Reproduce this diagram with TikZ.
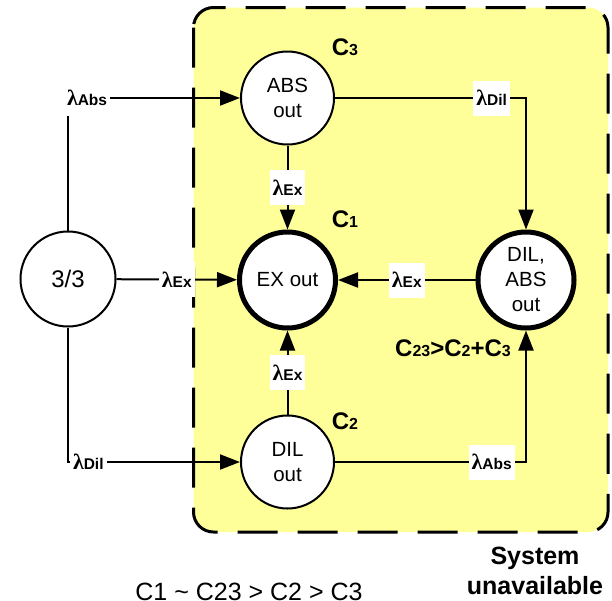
\documentclass[tikz,border=0pt]{standalone}
\usepackage{fontspec}
\setmainfont{Liberation Sans}
\newfontfamily\lamfont{Liberation Serif}
\definecolor{sysyellow}{HTML}{FFFF99}
\usepackage{tikz}
\usetikzlibrary{positioning,arrows.meta,calc}
\newcommand{\lamlbl}[1]{{\lamfont\bfseries\fontsize{22}{22}\selectfont λ}{\fontsize{15.5}{15.5}\selectfont\bfseries #1}}
\newcommand{\costlbl}[2]{{\fontsize{24}{24}\selectfont\bfseries #1}{\fontsize{16}{16}\selectfont\bfseries #2}}

\begin{document}
\begin{tikzpicture}[x=1pt, y=-1pt,
    state/.style={circle, draw, line width=2pt, fill=white, minimum size=93pt, inner sep=0pt,
                  align=center, font=\fontsize{20.5}{25}\selectfont},
    outstate/.style={state, line width=5pt, minimum size=96pt},
    rate/.style={fill=white, inner sep=3pt, minimum height=35pt},
    flow/.style={line width=2pt, -{Triangle[length=20pt, width=15pt]}}]
  \useasboundingbox (0,0) rectangle (612,600);
  \draw[line width=3pt, dash pattern=on 40pt off 20pt, rounded corners=20pt, fill=sysyellow]
    (193.5,7.5) rectangle (608,532);

  \node[state, minimum size=95pt, font=\fontsize{24}{24}\selectfont] (full) at (68,279) {3/3};
  \node[state] (abs) at (287.5,98) {ABS\\out};
  \node[outstate] (ex) at (287.5,280) {EX out};
  \node[state] (dil) at (287.5,462) {DIL\\out};
  \node[outstate] (dilabs) at (526,280) {DIL,\\ABS\\out};

  \draw[flow] (full.north) |- node[rate, pos=0.5, anchor=west, xshift=-5pt] {\lamlbl{Abs}} (abs.west);
  \draw[flow] (full.south) |- node[rate, pos=0.5, anchor=west, xshift=1pt] {\lamlbl{Dil}} (dil.west);
  \draw[flow] (full) -- node[rate] {\lamlbl{Ex}} (ex);
  \draw[flow] (abs) -- node[rate] {\lamlbl{Ex}} (ex);
  \draw[flow] (dil) -- node[rate] {\lamlbl{Ex}} (ex);
  \draw[flow] (dilabs) -- node[rate] {\lamlbl{Ex}} (ex);
  \draw[flow] (abs) -| node[rate, pos=0.41] {\lamlbl{Dil}} (dilabs);
  \draw[flow] (dil) -| node[rate, pos=0.41] {\lamlbl{Abs}} (dilabs);

  \node (c3) at (345,47) {\costlbl{C}{3}};
  \node (c1) at (345,219) {\costlbl{C}{1}};
  \node (c2) at (345,421) {\costlbl{C}{2}};
  \node (c23) at (453,348.5) {\costlbl{C}{23}\costlbl{>C}{2}\costlbl{+C}{3}};

  \node[align=center, font=\fontsize{25}{30}\selectfont\bfseries] (sys) at (535,571) {System\\unavailable};
  \node[anchor=base, font=\fontsize{25}{25}\selectfont] (order) at (249,600)
    {C1 \textasciitilde{} C23 > C2 > C3};
\end{tikzpicture}
\end{document}
